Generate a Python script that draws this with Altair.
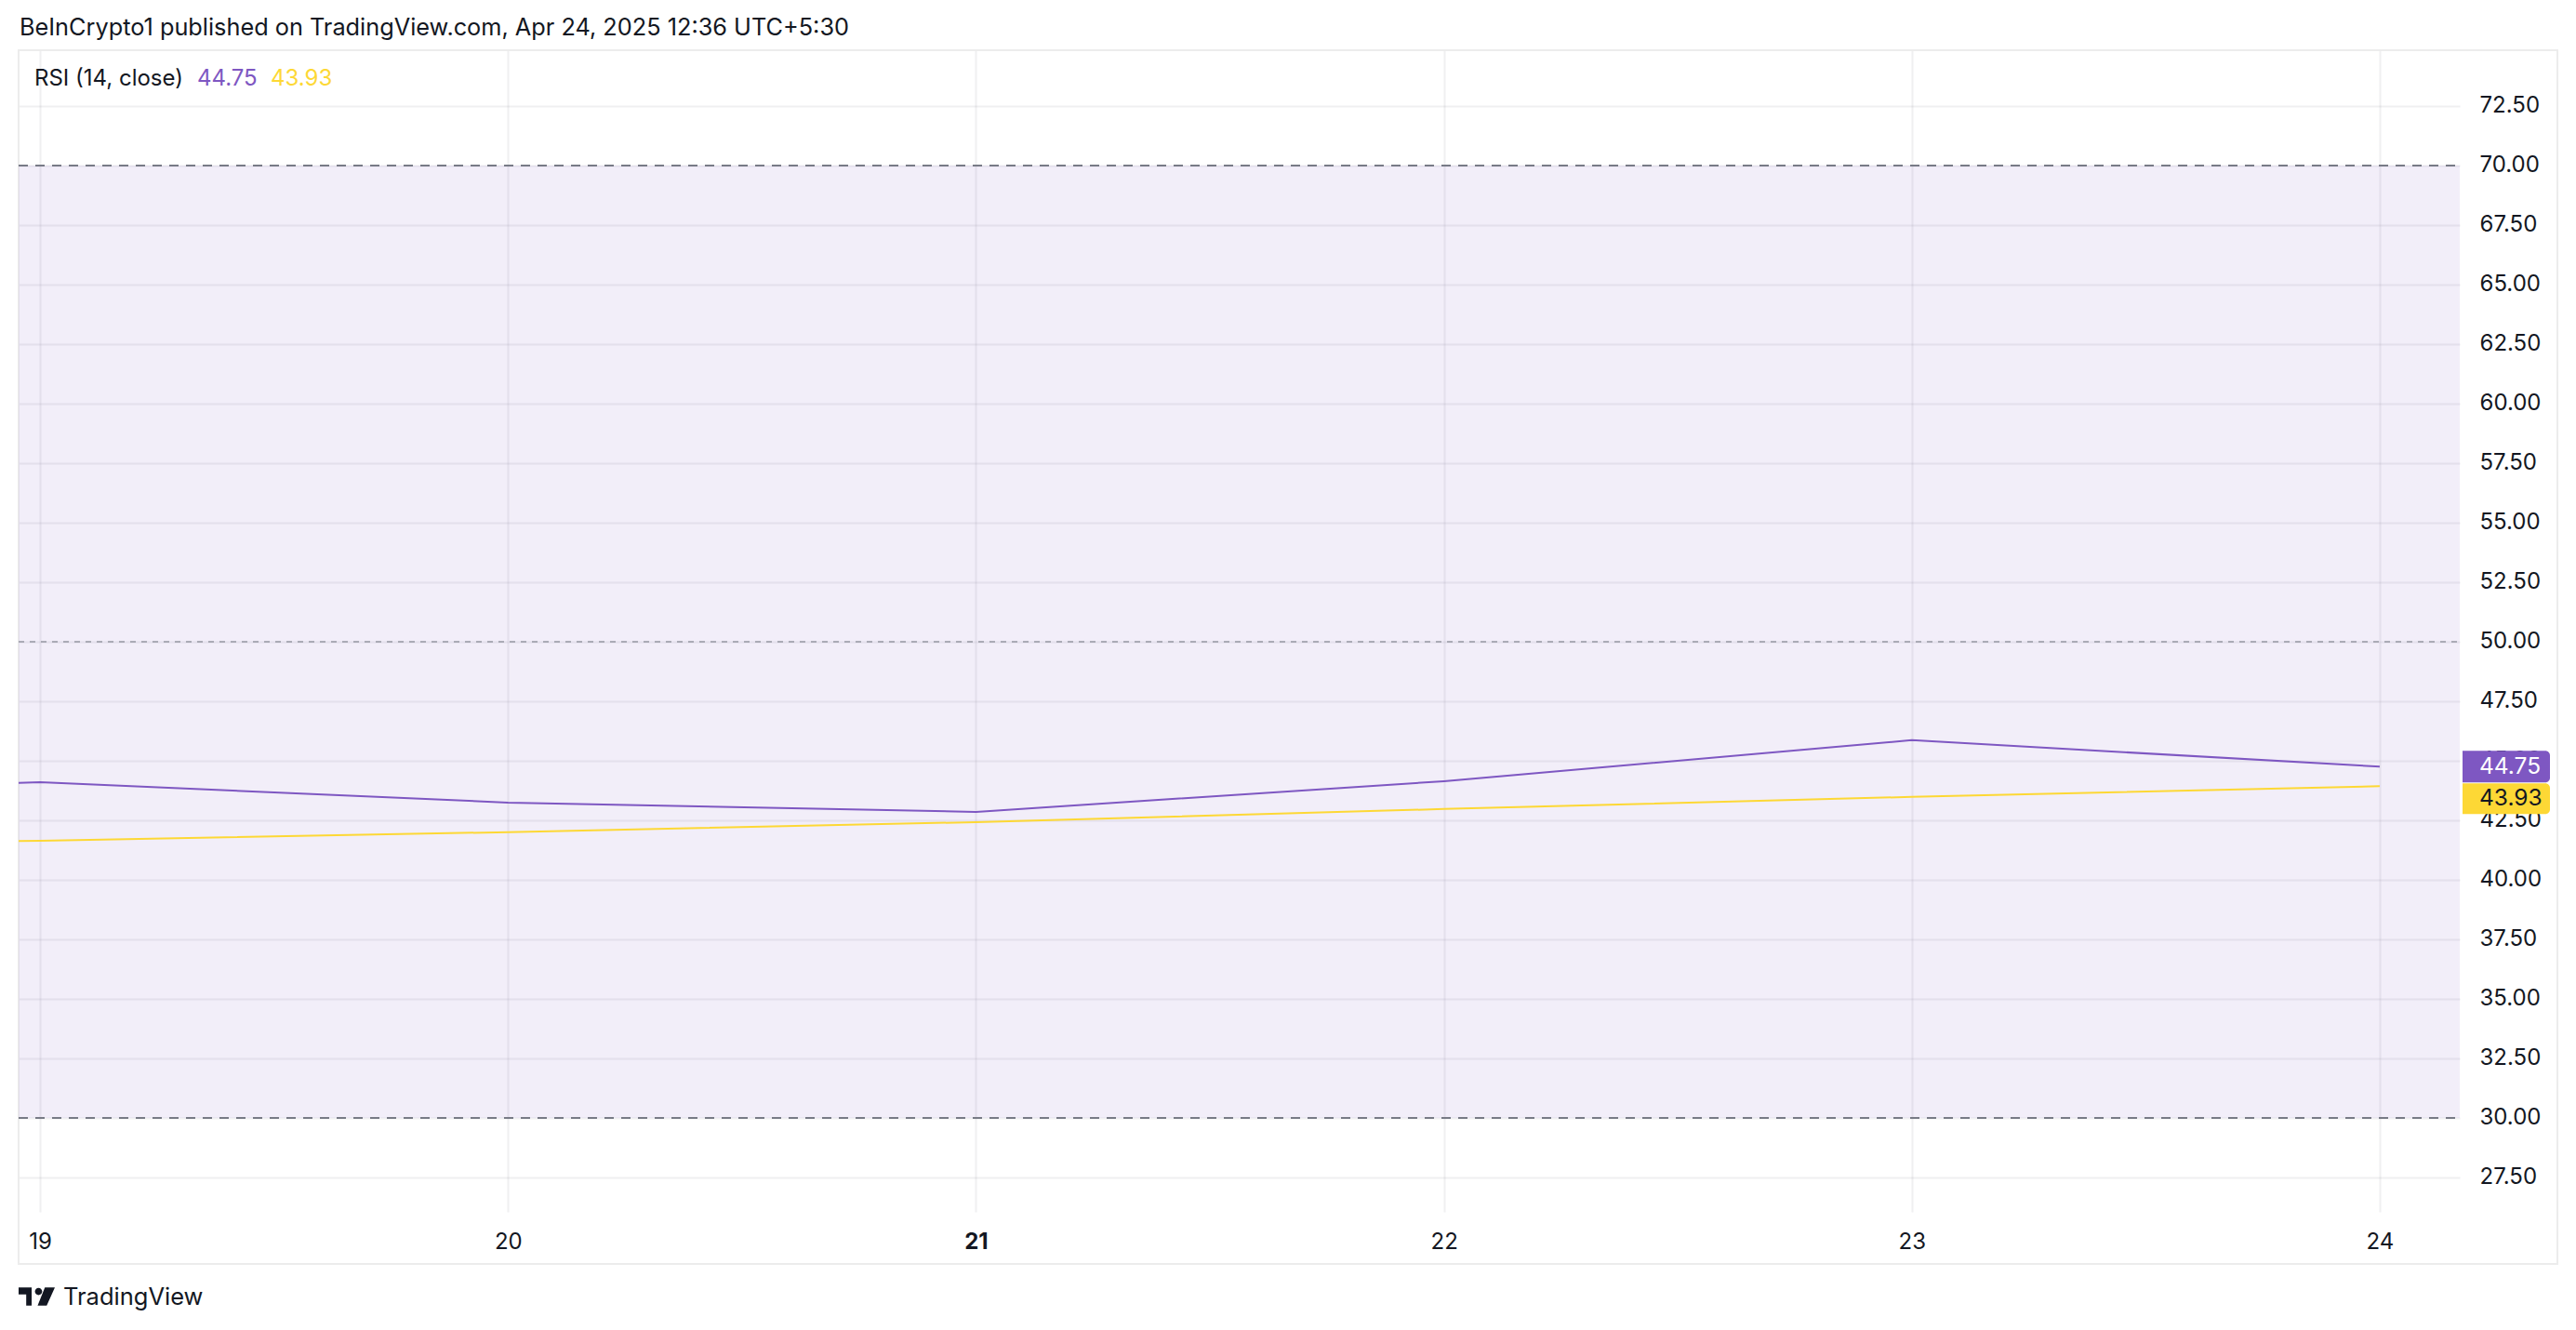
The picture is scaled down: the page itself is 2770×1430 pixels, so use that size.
import altair as alt
import pandas as pd

# ---- data ----
days = [18, 19, 20, 21, 22, 23, 24]
rsi_values = [43.3, 44.1, 43.24, 42.85, 44.14, 45.86, 44.75]
rsi_ma_values = [41.3, 41.64, 42.0, 42.42, 42.97, 43.48, 43.93]
x_ticks = [19, 20, 21, 22, 23, 24]
y_ticks = [27.5, 30.0, 32.5, 35.0, 37.5, 40.0, 42.5, 45.0, 47.5, 50.0,
           52.5, 55.0, 57.5, 60.0, 62.5, 65.0, 67.5, 70.0, 72.5]
band_low, band_high = [30], [70]
outer_levels = [70, 30]
middle_levels = [50]
last_rsi = [44.75]
last_ma = [43.93]
header_text = ["BeInCrypto1 published on TradingView.com, Apr 24, 2025 12:36 UTC+5:30"]
legend_name = ["RSI (14, close)"]
brand = ["TradingView"]

PURPLE = "#7E57C2"
YELLOW = "#FDD835"
TEXT = "#131722"
FONT = "Inter"

W, H = 2625, 1249

lines_df = pd.DataFrame({
    "day": days * 2,
    "value": rsi_values + rsi_ma_values,
    "series": ["RSI"] * len(days) + ["MA"] * len(days),
})

yscale = alt.Scale(domain=[26.05, 74.84], nice=False, zero=False)
yaxis = alt.Axis(values=y_ticks, format=".2f", orient="right", ticks=False, domain=False,
                 labelPadding=21, labelFontSize=24, labelFont=FONT, labelColor=TEXT,
                 labelFlush=False, labelOverlap=False, grid=True, gridColor="#2A2E39",
                 gridOpacity=0.07, gridWidth=2, title=None)
xscale = alt.Scale(domain=[18.954, 24.171], nice=False, zero=False)
xaxis = alt.Axis(values=x_ticks, format="d", ticks=False, domain=False, labelPadding=20,
                 labelFontSize=24, labelFont=FONT, labelColor=TEXT, labelFlush=False,
                 labelOverlap=False,
                 labelFontWeight=alt.condition("datum.value == 21", alt.value("bold"), alt.value("normal")),
                 grid=True, gridColor="#2A2E39", gridOpacity=0.07, gridWidth=2, title=None)


def Y(field):
    return alt.Y(field, type="quantitative", scale=yscale, axis=yaxis)


# frame around the whole chart
frame = alt.Chart(pd.DataFrame({"k": [0]})).mark_rect(
    fill=None, stroke="#ECECEC", strokeWidth=2
).encode(x=alt.value(0), x2=alt.value(2730), y=alt.value(0), y2=alt.value(1305))

band = alt.Chart(pd.DataFrame({"lo": band_low, "hi": band_high})).mark_rect(
    color=PURPLE, opacity=0.1
).encode(x=alt.value(0), x2=alt.value(W), y=Y("lo"), y2="hi")

outer = alt.Chart(pd.DataFrame({"lvl": outer_levels})).mark_rule(
    color="#787B86", strokeWidth=2, strokeDash=[10, 8]
).encode(x=alt.value(0), x2=alt.value(W), y=Y("lvl"))

middle = alt.Chart(pd.DataFrame({"lvl": middle_levels})).mark_rule(
    color="#787B86", strokeWidth=2, strokeDash=[6, 6], opacity=0.55
).encode(x=alt.value(0), x2=alt.value(W), y=Y("lvl"))

lines = alt.Chart(lines_df).mark_line(strokeWidth=2, clip=True).encode(
    x=alt.X("day:Q", scale=xscale, axis=xaxis),
    y=Y("value"),
    color=alt.Color("series:N", scale=alt.Scale(domain=["MA", "RSI"], range=[YELLOW, PURPLE]), legend=None),
    order=alt.Order("day:Q"),
)

rsi_box = alt.Chart(pd.DataFrame({"v": last_rsi})).mark_rect(
    color=PURPLE, yOffset=-17, y2Offset=17, cornerRadiusTopRight=5, cornerRadiusBottomRight=5
).encode(x=alt.value(2628), x2=alt.value(2722), y=Y("v"), y2="v")
ma_box = alt.Chart(pd.DataFrame({"v": last_ma})).mark_rect(
    color=YELLOW, yOffset=-3, y2Offset=30, cornerRadiusTopRight=5, cornerRadiusBottomRight=5
).encode(x=alt.value(2628), x2=alt.value(2722), y=Y("v"), y2="v")

rsi_lbl = alt.Chart(pd.DataFrame({"v": last_rsi})).mark_text(
    align="left", baseline="middle", fontSize=24.5, font=FONT, color="white", dy=1
).encode(x=alt.value(2646), y=Y("v"), text=alt.Text("v:Q", format=".2f"))
ma_lbl = alt.Chart(pd.DataFrame({"v": last_ma})).mark_text(
    align="left", baseline="middle", fontSize=24.5, font=FONT, color=TEXT, dy=14
).encode(x=alt.value(2646), y=Y("v"), text=alt.Text("v:Q", format=".2f"))

header = alt.Chart(pd.DataFrame({"t": header_text})).mark_text(
    align="left", baseline="middle", fontSize=25.3, font=FONT, color=TEXT
).encode(x=alt.value(1), y=alt.value(-24), text="t:N")

leg_name = alt.Chart(pd.DataFrame({"t": legend_name})).mark_text(
    align="left", baseline="middle", fontSize=24, font=FONT, color=TEXT
).encode(x=alt.value(17), y=alt.value(31), text="t:N")
leg_rsi = alt.Chart(pd.DataFrame({"v": last_rsi})).mark_text(
    align="left", baseline="middle", fontSize=24, font=FONT, color=PURPLE
).encode(x=alt.value(192), y=alt.value(31), text=alt.Text("v:Q", format=".2f"))
leg_ma = alt.Chart(pd.DataFrame({"v": last_ma})).mark_text(
    align="left", baseline="middle", fontSize=24, font=FONT, color=YELLOW
).encode(x=alt.value(271), y=alt.value(31), text=alt.Text("v:Q", format=".2f"))

logo_path = ("M-1,-0.5 L-0.28,-0.5 L-0.28,0.5 L-0.58,0.5 L-0.58,-0.12 L-1,-0.12 Z "
             "M-0.1,-0.28 A0.2,0.2 0 1,0 0.3,-0.28 A0.2,0.2 0 1,0 -0.1,-0.28 Z "
             "M0.45,-0.5 L1,-0.5 L0.55,0.5 L0.05,0.5 Z")
logo = alt.Chart(pd.DataFrame({"k": [0]})).mark_point(
    shape=logo_path, filled=True, color=TEXT, size=1521, opacity=1
).encode(x=alt.value(19.5), y=alt.value(1340))
brand_txt = alt.Chart(pd.DataFrame({"t": brand})).mark_text(
    align="left", baseline="middle", fontSize=25.5, font=FONT, color=TEXT
).encode(x=alt.value(48), y=alt.value(1341), text="t:N")

chart = alt.layer(
    frame, band, outer, middle, lines, rsi_box, ma_box, rsi_lbl, ma_lbl,
    header, leg_name, leg_rsi, leg_ma, logo, brand_txt
).properties(
    width=W, height=H,
    autosize=alt.AutoSizeParams(type="none"),
    padding={"left": 12, "top": 46, "right": 117, "bottom": 119},
    background="white",
).configure_view(stroke=None)

chart.save("out.html", embed_options={"renderer": "svg", "actions": False})
